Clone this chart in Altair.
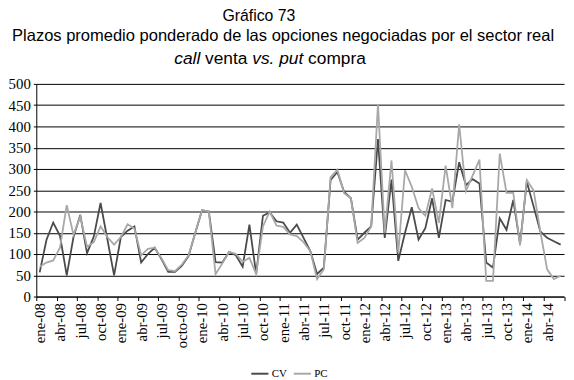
import altair as alt
import pandas as pd

tick_labels = ["ene-08", "abr-08", "jul-08", "oct-08", "ene-09", "abr-09", "jul-09",
               "octo-09", "ene-10", "abr-10", "jul-10", "oct-10", "ene-11", "abr-11",
               "jul-11", "oct-11", "ene-12", "abr-12", "jul-12", "oct-12", "ene-13",
               "abr-13", "jul-13", "oct-13", "ene-14", "abr-14"]

series_names = ["CV", "PC"]

cv = [57, 133, 174, 143, 50, 140, 192, 102, 141, 220,
      135, 50, 140, 155, 165, 80, 100, 115, 88, 58,
      58, 72, 95, 150, 203, 200, 81, 80, 105, 97,
      70, 169, 53, 190, 198, 177, 174, 150, 169, 138,
      107, 53, 68, 274, 293, 246, 231, 134, 150, 165,
      370, 138, 275, 84, 150, 210, 134, 161, 231, 138,
      227, 223, 316, 262, 276, 266, 80, 68, 184, 157,
      227, 124, 270, 212, 153, 138, 130, 122]

pc = [70, 80, 85, 115, 215, 145, 188, 117, 128, 165,
      140, 122, 140, 170, 160, 97, 112, 115, 90, 62,
      60, 75, 97, 150, 203, 200, 53, 78, 105, 100,
      82, 91, 53, 165, 200, 167, 164, 146, 142, 128,
      107, 41, 64, 281, 298, 243, 231, 126, 138, 165,
      452, 150, 320, 103, 297, 258, 208, 190, 254, 173,
      308, 208, 405, 248, 285, 322, 37, 37, 336, 244,
      244, 120, 274, 250, 153, 64, 41, 49]

n = len(cv)
df_cv = pd.DataFrame({"m": list(range(n)), "v": cv, "s": series_names[0]})
df_pc = pd.DataFrame({"m": list(range(n)), "v": pc, "s": series_names[1]})

labs = tick_labels + [""]
label_expr = "[" + ",".join("'" + l + "'" for l in labs) + "][round((datum.value+0.5)/3)]"

x_enc = alt.X("m:Q",
              scale=alt.Scale(domain=[-0.5, n - 0.5], nice=False, zero=False),
              axis=alt.Axis(values=[-0.5 + 3 * k for k in range(27)],
                            labelExpr=label_expr, labelAngle=270, labelOffset=3.4,
                            tickSize=4, labelPadding=2, grid=False,
                            labelOverlap=False, labelFlush=False,
                            domainColor="#000000", tickColor="#000000",
                            labelFont="Liberation Serif", labelFontSize=15,
                            labelColor="#000000", title=None))
y_enc = alt.Y("v:Q",
              scale=alt.Scale(domain=[0, 500], nice=False),
              axis=alt.Axis(values=list(range(0, 501, 50)), tickSize=3,
                            labelPadding=3, grid=True, gridColor="#000000",
                            gridWidth=1, domainColor="#000000",
                            tickColor="#000000", labelFont="Liberation Serif",
                            labelFontSize=15, labelColor="#000000", title=None))
color_enc = alt.Color("s:N",
                      scale=alt.Scale(domain=series_names, range=["#4a4a4a", "#a8a8a8"]),
                      legend=alt.Legend(orient="none", legendX=216, legendY=283,
                                        direction="horizontal", title=None,
                                        symbolType="stroke", symbolStrokeWidth=2,
                                        symbolSize=300, labelFont="Liberation Serif",
                                        labelFontSize=11, labelColor="#000000",
                                        columnPadding=2, labelOffset=2))

line_cv = alt.Chart(df_cv).mark_line(strokeWidth=1.8).encode(x=x_enc, y=y_enc, color=color_enc)
line_pc = alt.Chart(df_pc).mark_line(strokeWidth=1.8).encode(x=x_enc, y=y_enc, color=color_enc)


def txt(s, x, y, size, align="center", style="normal"):
    return alt.Chart(pd.DataFrame({"t": [s]})).mark_text(
        font="Liberation Sans", fontSize=size, align=align, baseline="middle",
        fontStyle=style, color="#000000").encode(
        text="t:N", x=alt.value(x), y=alt.value(y))


titles = [
    txt("Gráfico 73", 225, -68.5, 16),
    txt("Plazos promedio ponderado de las opciones negociadas por el sector real", 249.5, -48.5, 16.7),
    txt("call", 139.5, -25.5, 17.5, "left", "italic"),
    txt("venta", 170.6, -25.5, 17.5, "left"),
    txt("vs.", 218.3, -25.5, 17.5, "left", "italic"),
    txt("put", 245.6, -25.5, 17.5, "left", "italic"),
    txt("compra", 274.8, -25.5, 17.5, "left"),
]

chart = alt.layer(line_cv, line_pc, *titles).properties(
    width=533.5, height=215,
    padding={"left": 28.6, "top": 74.7, "right": 2, "bottom": 80},
    autosize=alt.AutoSizeParams(type="none"),
).configure_view(strokeWidth=0)

chart.save("out.html", embed_options={"renderer": "svg", "actions": False})
